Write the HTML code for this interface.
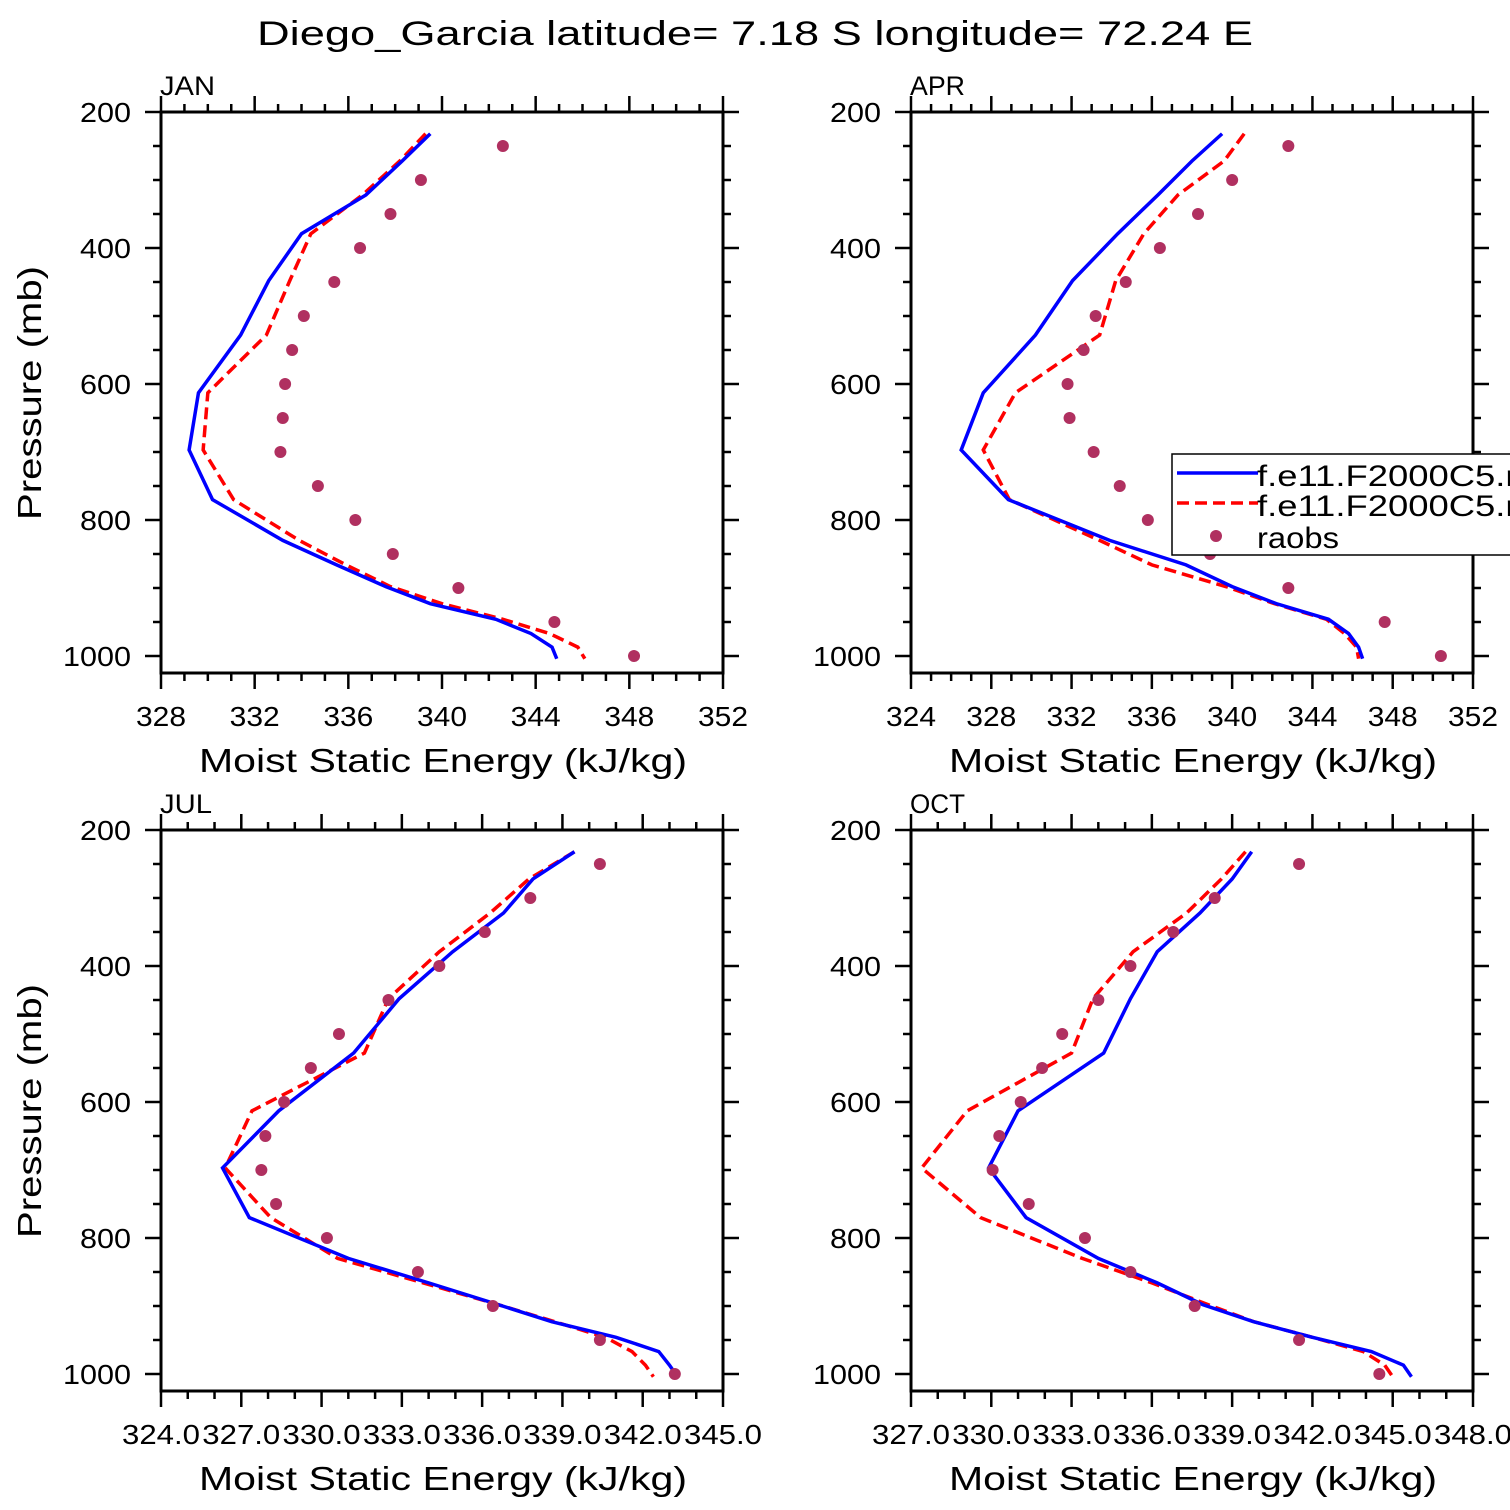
<!DOCTYPE html>
<html><head><meta charset="utf-8"><title>Diego_Garcia MSE</title>
<style>html,body{margin:0;padding:0;background:#fff;}svg{display:block;font-family:"Liberation Sans",sans-serif;}</style>
</head><body>
<svg id="chart" width="1510" height="1510" viewBox="0 0 1510 1510" xmlns="http://www.w3.org/2000/svg">
<text x="755" y="45" text-anchor="middle" font-size="34" textLength="996" lengthAdjust="spacingAndGlyphs">Diego_Garcia  latitude= 7.18 S longitude= 72.24 E</text>
</svg>
<script>
// model pressure levels (mb)
const modelLevels = [232,272,322,379,448,528,613,697,770,830,866,898,923,946,967,987,1004];
const obsLevels = [250,300,350,400,450,500,550,600,650,700,750,800,850,900,950,1000];
const yTicks = [200,400,600,800,1000];

const janBlue = [339.5,338.3,336.75,334.0,332.6,331.4,329.6,329.2,330.2,333.2,335.5,337.6,339.5,342.3,343.8,344.7,344.9];
const janRed  = [339.3,338.2,336.6,334.4,333.5,332.5,330.0,329.8,331.1,333.9,335.9,337.8,340.0,342.6,344.6,345.8,346.1];
const janObs  = [342.6,339.1,337.8,336.5,335.4,334.1,333.6,333.3,333.2,333.1,334.7,336.3,337.9,340.7,344.8,348.2];

const aprBlue = [339.5,338.0,336.3,334.3,332.05,330.2,327.6,326.5,328.85,333.9,337.7,340.0,342.2,344.8,345.8,346.3,346.5];
const aprRed  = [340.6,339.6,337.3,335.6,334.2,333.4,329.2,327.6,328.9,333.4,336.0,339.7,342.1,344.7,345.6,346.2,346.3];
const aprObs  = [342.8,340.0,338.3,336.4,334.7,333.2,332.6,331.8,331.9,333.1,334.4,335.8,338.9,342.8,347.6,350.4];

const julBlue = [339.45,337.9,336.8,334.9,332.9,331.2,328.4,326.3,327.3,331.0,334.0,336.6,338.6,341.0,342.6,343.0,343.3];
const julRed  = [339.45,337.75,336.3,334.4,332.5,331.6,327.4,326.4,328.1,330.6,333.8,336.6,338.7,340.6,341.6,342.1,342.4];
const julObs  = [340.4,337.8,336.1,334.4,332.5,330.65,329.6,328.6,327.9,327.75,328.3,330.2,333.6,336.4,340.4,343.2];

const octBlue = [339.73,339.0,337.8,336.2,335.2,334.2,331.0,329.9,331.3,334.0,336.2,337.9,339.8,342.0,344.2,345.4,345.7];
const octRed  = [339.5,338.6,337.3,335.3,333.8,333.0,329.1,327.4,329.6,333.4,336.0,338.1,339.8,342.0,343.9,344.7,345.0];
const octObs  = [341.5,338.35,336.8,335.2,334.0,332.65,331.9,331.1,330.3,330.05,331.4,333.5,335.2,337.6,341.5,344.5];

const janXTicks = ["328","332","336","340","344","348","352"];
const aprXTicks = ["324","328","332","336","340","344","348","352"];
const julXTicks = ["324.0","327.0","330.0","333.0","336.0","339.0","342.0","345.0"];
const octXTicks = ["327.0","330.0","333.0","336.0","339.0","342.0","345.0","348.0"];

const NS = "http://www.w3.org/2000/svg";
const svg = document.getElementById('chart');
function mk(tag, attrs, parent){
  const e = document.createElementNS(NS, tag);
  for (const k in attrs) e.setAttribute(k, attrs[k]);
  (parent||svg).appendChild(e);
  return e;
}

const panels = [
  {id:'jan', label:'JAN', x0:161, y0:112, xmin:328, xmax:352, step:4, ticks:janXTicks, blue:janBlue, red:janRed, obs:janObs, lw:50},
  {id:'apr', label:'APR', x0:911, y0:112, xmin:324, xmax:352, step:4, ticks:aprXTicks, blue:aprBlue, red:aprRed, obs:aprObs, lw:50},
  {id:'jul', label:'JUL', x0:161, y0:830, xmin:324, xmax:345, step:3, ticks:julXTicks, blue:julBlue, red:julRed, obs:julObs, lw:78},
  {id:'oct', label:'OCT', x0:911, y0:830, xmin:327, xmax:348, step:3, ticks:octXTicks, blue:octBlue, red:octRed, obs:octObs, lw:78}
];
const W = 562, H = 561, PMIN = 200, PMAX = 1025;

panels.forEach((P, idx) => {
  const g = mk('g', {});
  
  
  const sx = v => P.x0 + (v - P.xmin) / (P.xmax - P.xmin) * W;
  const sy = p => P.y0 + (p - PMIN) / (PMAX - PMIN) * H;
  const clipId = 'clip' + idx;
  const cp = mk('clipPath', {id: clipId}, g);
  mk('rect', {x:P.x0, y:P.y0, width:W, height:H}, cp);

  const tg = mk('g', {stroke:'#000', 'stroke-width':2.5}, g);
  
  
  for (let v = P.xmin; v <= P.xmax + 1e-6; v += 1) {
    const major = Math.abs(((v - P.xmin) / P.step) - Math.round((v - P.xmin) / P.step)) < 1e-6;
    const L = major ? 16 : 8;
    const x = sx(v);
    mk('line', {x1:x, y1:P.y0, x2:x, y2:P.y0 - L}, tg);
    mk('line', {x1:x, y1:P.y0 + H, x2:x, y2:P.y0 + H + L}, tg);
  }
  for (let p = 200; p <= 1000; p += 50) {
    const major = p % 200 === 0;
    const L = major ? 16 : 8;
    const y = sy(p);
    mk('line', {x1:P.x0, y1:y, x2:P.x0 - L, y2:y}, tg);
    mk('line', {x1:P.x0 + W, y1:y, x2:P.x0 + W + L, y2:y}, tg);
  }
  const fr = mk('rect', {x:P.x0, y:P.y0, width:W, height:H, fill:'none', stroke:'#000', 'stroke-width':3}, g);
  
  

  yTicks.forEach(p => {
    const s = String(p);
    const t = mk('text', {x:P.x0 - 30, y:sy(p) + 10, 'text-anchor':'end', 'font-size':28, textLength:s.length * 17, lengthAdjust:'spacingAndGlyphs'}, g);
    
    
    t.textContent = s;
  });
  P.ticks.forEach((lab, i) => {
    const v = P.xmin + i * P.step;
    const t = mk('text', {x:sx(v), y:P.y0 + H + 53, 'text-anchor':'middle', 'font-size':28, textLength:P.lw, lengthAdjust:'spacingAndGlyphs'}, g);
    
    
    t.textContent = lab;
  });
  const xt = mk('text', {x:P.x0 + 282, y:P.y0 + H + 99, 'text-anchor':'middle', 'font-size':33, textLength:488, lengthAdjust:'spacingAndGlyphs'}, g);
  
  
  xt.textContent = 'Moist Static Energy (kJ/kg)';
  if (P.x0 < 500) {
    const cy = P.y0 + 281;
    const yt = mk('text', {x:41, y:cy, 'text-anchor':'middle', 'font-size':33, textLength:254, lengthAdjust:'spacingAndGlyphs', transform:'rotate(-90 41 ' + cy + ')'}, g);
    
    
    yt.textContent = 'Pressure (mb)';
  }
  const pl = mk('text', {x:P.x0 - 1, y:P.y0 - 17, 'font-size':27, textLength:P.label === 'JUL' ? 52 : 55, lengthAdjust:'spacingAndGlyphs'}, g);
  
  
  pl.textContent = P.label;

  const dg = mk('g', {'clip-path':'url(#' + clipId + ')'}, g);
  const red = mk('polyline', {points:P.red.map((v,i)=>sx(v)+','+sy(modelLevels[i])).join(' '), fill:'none', stroke:'#ff0000', 'stroke-width':3.5, 'stroke-dasharray':'12 6'}, dg);
  
  
  const blue = mk('polyline', {points:P.blue.map((v,i)=>sx(v)+','+sy(modelLevels[i])).join(' '), fill:'none', stroke:'#0000ff', 'stroke-width':3.5}, dg);
  
  
  P.obs.forEach((v, i) => {
    const c = mk('circle', {cx:sx(v), cy:sy(obsLevels[i]), r:6, fill:'#b03060'}, dg);
    
    
  });
});

const lg = mk('g', {});


mk('rect', {x:1172, y:454, width:360, height:101, fill:'#fff', stroke:'#000', 'stroke-width':1.5}, lg);
const l1 = mk('line', {x1:1177, y1:473, x2:1258, y2:473, stroke:'#0000ff', 'stroke-width':3.5}, lg);


const l2 = mk('line', {x1:1177, y1:503, x2:1258, y2:503, stroke:'#ff0000', 'stroke-width':3.5, 'stroke-dasharray':'12 6'}, lg);


const l3 = mk('circle', {cx:1216, cy:536, r:6, fill:'#b03060'}, lg);


[['f.e11.F2000C5.nudged', 484],['f.e11.F2000C5.nudged', 514],['raobs', 546]].forEach((d, i) => {
  const t = mk('text', {x:1257, y:d[1] + 2, 'font-size':30}, lg);
  
  
  if (i < 2) { t.setAttribute('textLength', 370); t.setAttribute('lengthAdjust', 'spacingAndGlyphs'); }
  else { t.setAttribute('textLength', 82); t.setAttribute('lengthAdjust', 'spacingAndGlyphs'); }
  t.textContent = d[0];
});
</script>
</body></html>
